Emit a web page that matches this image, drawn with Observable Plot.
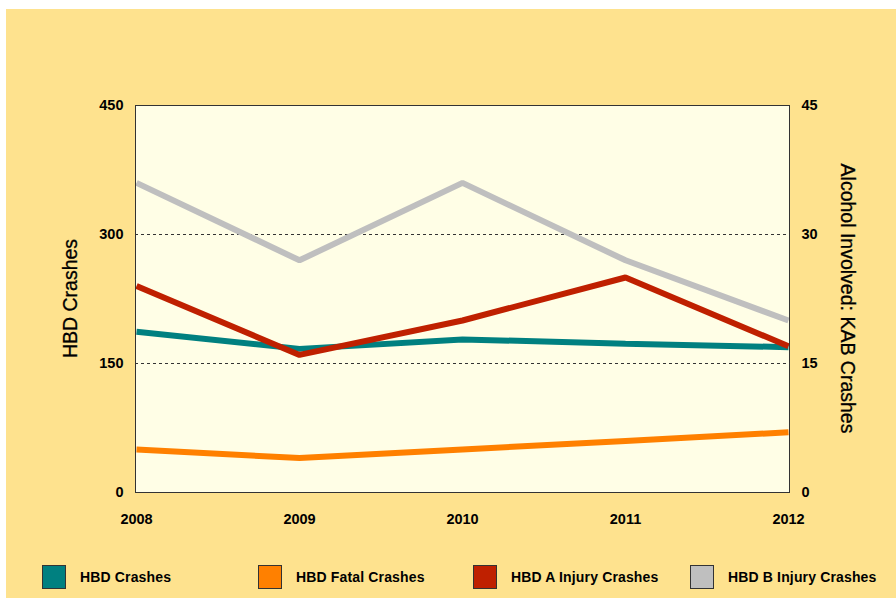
<!DOCTYPE html>
<html>
<head>
<meta charset="utf-8">
<script src="https://cdn.jsdelivr.net/npm/d3@7"></script>
<script src="https://cdn.jsdelivr.net/npm/@observablehq/plot@0.6"></script>
<style>
  html, body { margin: 0; padding: 0; background: #ffffff; }
  #chart { position: absolute; left: 6px; top: 9px; width: 890px; height: 589px; background: #FEE28E; font-family: "Liberation Sans", Arial, sans-serif; overflow: hidden; }
  #plot { position: absolute; left: 0; top: 0; }
  .ytitle { position: absolute; font-size: 19.5px; color: #000; white-space: nowrap; transform-origin: center center; -webkit-text-stroke: 0.3px #000; }
  .legend-item { position: absolute; top: 556px; display: flex; align-items: center; font-size: 14px; font-weight: bold; color: #000; letter-spacing: 0.15px; }
  .sw { width: 24px; height: 24px; border: 1px solid #333; box-sizing: border-box; margin-right: 14px; }
</style>
</head>
<body>
<div id="chart">
  <div id="plot"></div>
  <div class="ytitle" id="ltitle">HBD Crashes</div>
  <div class="ytitle" id="rtitle">Alcohol Involved: KAB Crashes</div>
</div>
<script>
const years = [2008, 2009, 2010, 2011, 2012];
const hbdCrashes = [187, 167, 178, 173, 169];      // left axis
const hbdFatal = [5, 4, 5, 6, 7];                  // right axis
const hbdAInjury = [24, 16, 20, 25, 17];           // right axis
const hbdBInjury = [36, 27, 36, 27, 20];           // right axis
const leftTicks = [0, 150, 300, 450];
const rightTicks = [0, 15, 30, 45];
const seriesNames = ["HBD Crashes", "HBD Fatal Crashes", "HBD A Injury Crashes", "HBD B Injury Crashes"];
const seriesColors = ["#008080", "#FF8000", "#BF2000", "#BFBFBF"];

const ratio = 450 / 45; // right axis -> left axis
const rows = [];
years.forEach((y, i) => {
  rows.push({year: y, series: seriesNames[0], v: hbdCrashes[i]});
  rows.push({year: y, series: seriesNames[1], v: hbdFatal[i] * ratio});
  rows.push({year: y, series: seriesNames[2], v: hbdAInjury[i] * ratio});
  rows.push({year: y, series: seriesNames[3], v: hbdBInjury[i] * ratio});
});
// draw order: gray behind
const order = [seriesNames[3], seriesNames[1], seriesNames[0], seriesNames[2]];

const chart = Plot.plot({
  width: 890,
  height: 545,
  marginLeft: 129,
  marginRight: 107,
  marginTop: 96,
  marginBottom: 62,
  style: {background: "transparent", fontFamily: "'Liberation Sans', Arial, sans-serif", fontSize: "14px", fontWeight: "bold", color: "#000"},
  x: {type: "point", domain: years, padding: 0},
  y: {domain: [0, 450]},
  color: {domain: seriesNames, range: seriesColors},
  marks: [
    Plot.frame({fill: "#FFFEE6", stroke: null}),
    Plot.ruleY([150, 300], {stroke: "#333", strokeDasharray: "3,3", strokeWidth: 1}),
    ...order.map(s => Plot.line(rows.filter(r => r.series === s), {x: "year", y: "v", stroke: "series", strokeWidth: 6, strokeLinejoin: "miter", strokeLinecap: "butt"})),
    Plot.frame({stroke: "#333", strokeWidth: 1}),
    Plot.axisX({ticks: years, tickSize: 0, tickPadding: 21, tickFormat: d => String(d), label: null, fontSize: 14.5, fontWeight: "bold"}),
    Plot.axisY({anchor: "left", ticks: leftTicks, tickSize: 0, tickPadding: 12, label: null, fontSize: 14.5}),
    Plot.axisY({anchor: "right", ticks: rightTicks.map(t => t * ratio), tickSize: 0, tickPadding: 12, tickFormat: d => String(Math.round(d / ratio)), label: null, fontSize: 14.5})
  ]
});
document.getElementById("plot").appendChild(chart);

// axis titles
const lt = document.getElementById("ltitle");
lt.style.left = (64 - lt.offsetWidth / 2) + "px";
lt.style.top = (289 - lt.offsetHeight / 2) + "px";
lt.style.transform = "rotate(-90deg)";
const rt = document.getElementById("rtitle");
rt.style.left = (842 - rt.offsetWidth / 2) + "px";
rt.style.top = (289 - rt.offsetHeight / 2) + "px";
rt.style.transform = "rotate(90deg)";

// legend
const legendX = [36, 252, 467, 684];
const chartDiv = document.getElementById("chart");
seriesNames.forEach((name, i) => {
  const item = document.createElement("div");
  item.className = "legend-item";
  item.style.left = legendX[i] + "px";
  const sw = document.createElement("div");
  sw.className = "sw";
  sw.style.background = seriesColors[i];
  const label = document.createElement("span");
  label.textContent = name;
  item.appendChild(sw);
  item.appendChild(label);
  chartDiv.appendChild(item);
});
</script>
</body>
</html>
